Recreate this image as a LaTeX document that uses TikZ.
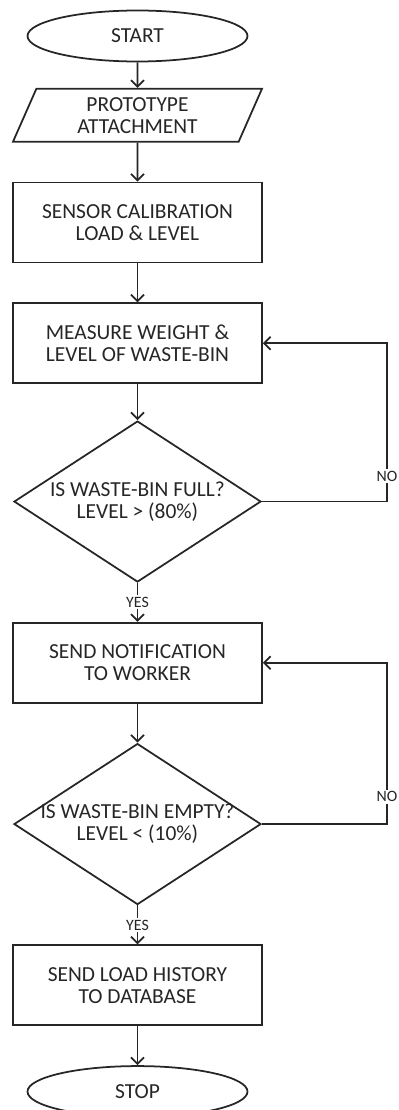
\documentclass[tikz,border=0pt]{standalone}
\usepackage{fontspec}
\setmainfont{Carlito}
\usetikzlibrary{arrows.meta, positioning, shapes.geometric}

\begin{document}
\begin{tikzpicture}[
    node distance=0.78cm and 0.78cm,
    line width=1pt,
    black!85,
    every node/.style={align=center, font=\fontsize{12.2}{12.6}\selectfont},
    startstop/.style={ellipse, draw, minimum width=4.4cm, minimum height=1.02cm},
    io/.style={trapezium, trapezium left angle=64, trapezium right angle=116, trapezium stretches body, draw, minimum width=4.98cm, minimum height=1.06cm},
    process/.style={rectangle, draw, minimum width=4.98cm, minimum height=1.6cm},
    decision/.style={diamond, draw, minimum width=4.94cm, minimum height=3.22cm, inner sep=0pt},
    answer/.style={fill=white, inner sep=1pt, font=\fontsize{9}{10}\selectfont},
    arrow/.style={-{Straight Barb[length=1.3mm, width=2.6mm]}}
]
\useasboundingbox (0,0) rectangle (7.96,-22.2);

% Nodes
\node[startstop] (start) at (2.75,-0.72) {START};
\node[io, below=0.51cm of start] (proto) {PROTOTYPE\\ATTACHMENT};
\node[process, below=of proto] (calib) {SENSOR CALIBRATION\\LOAD \& LEVEL};
\node[process, below=of calib] (measure) {MEASURE WEIGHT \&\\LEVEL OF WASTE-BIN};
\node[decision, below=0.72cm of measure, label={center:IS WASTE-BIN FULL?\\LEVEL > (80\%)}] (full) {};
\node[process, below=of full] (notify) {SEND NOTIFICATION\\TO WORKER};
\node[decision, below=of notify, label={center:IS WASTE-BIN EMPTY?\\LEVEL < (10\%)}] (empty) {};
\node[process, below=of empty] (history) {SEND LOAD HISTORY\\TO DATABASE};
\node[startstop, below=of history] (stop) {STOP};
\coordinate (loop) at (7.74,0);

% Connections
\draw[arrow] (start) -- (proto);
\draw[arrow] (proto) -- (calib);
\draw[arrow] (calib) -- (measure);
\draw[arrow] (measure) -- (full);
\draw[arrow] (full) -- node[answer]{YES} (notify);
\draw[arrow] (full.east) -- (full.east -| loop) -- node[answer, pos=0.16]{NO} (loop |- measure.east) -- (measure.east);
\draw[arrow] (notify) -- (empty);
\draw[arrow] (empty) -- node[answer]{YES} (history);
\draw[arrow] (empty.east) -- (empty.east -| loop) -- node[answer, pos=0.17]{NO} (loop |- notify.east) -- (notify.east);
\draw[arrow] (history) -- (stop);

\end{tikzpicture}
\end{document}
